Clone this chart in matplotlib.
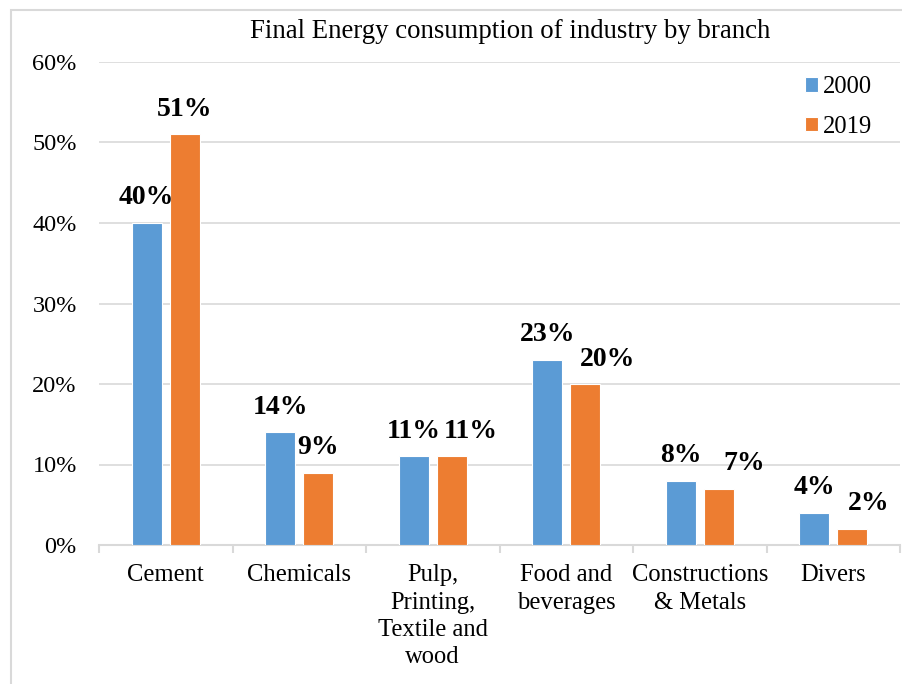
"""Final energy consumption of industry by branch: 2000 vs 2019 grouped bars."""
import matplotlib
matplotlib.use("Agg")
import matplotlib.pyplot as plt
from matplotlib.patches import Rectangle
from matplotlib.ticker import FixedLocator, PercentFormatter
import numpy as np

plt.rcParams["font.family"] = ["Liberation Serif", "DejaVu Serif"]

CATEGORIES = ["Cement", "Chemicals", "Pulp,\nPrinting,\nTextile and\nwood",
              "Food and\nbeverages", "Constructions\n& Metals", "Divers"]
SERIES = ["2000", "2019"]
VALS_2000 = [40, 14, 11, 23, 8, 4]
VALS_2019 = [51, 9, 11, 20, 7, 2]

BLUE = "#5B9BD5"
ORANGE = "#ED7D31"
GRID = "#D9D9D9"

# label nudges (points) for the 2019 labels, as placed in the original
NUDGE_2019 = [0, 0, 14, 16, 18, 12]

fig = plt.figure(figsize=(9.03, 6.84), dpi=100)
ax = fig.add_axes([99 / 903, 1 - 545 / 684, 801 / 903, 483 / 684])

x = np.arange(len(CATEGORIES))
w = 0.225
off = 0.142
b1 = ax.bar(x - off, VALS_2000, w, color=BLUE, edgecolor="white", linewidth=0.8,
            label=SERIES[0], zorder=3)
b2 = ax.bar(x + off, VALS_2019, w, color=ORANGE, edgecolor="white", linewidth=0.8,
            label=SERIES[1], zorder=3)

for i, r in enumerate(b1):
    ax.annotate(f"{VALS_2000[i]}%", (r.get_x() + r.get_width() / 2, r.get_height()),
                xytext=(0, 18), textcoords="offset points", ha="center", va="center",
                fontsize=20, fontweight="bold")
for i, r in enumerate(b2):
    ax.annotate(f"{VALS_2019[i]}%", (r.get_x() + r.get_width() / 2, r.get_height()),
                xytext=(NUDGE_2019[i], 18), textcoords="offset points", ha="center",
                va="center", fontsize=20, fontweight="bold")

ax.set_xlim(-0.5, len(CATEGORIES) - 0.5)
ax.set_ylim(0, 60)
ax.yaxis.set_major_locator(FixedLocator(range(0, 61, 10)))
ax.yaxis.set_major_formatter(PercentFormatter(decimals=0))
ax.grid(axis="y", color=GRID, linewidth=1.2, zorder=0)
ax.tick_params(axis="y", length=0, labelsize=17.5, pad=16)

ax.set_xticks(x)
ax.set_xticklabels(CATEGORIES, fontsize=17.7, linespacing=1.3)
ax.set_xticks(np.arange(-0.5, len(CATEGORIES)), minor=True)
ax.tick_params(axis="x", which="major", length=0, pad=14)
ax.tick_params(axis="x", which="minor", length=6, color=GRID, width=1.5)

for s in ["top", "right", "left"]:
    ax.spines[s].set_visible(False)
ax.spines["bottom"].set_color(GRID)
ax.spines["bottom"].set_linewidth(1.5)

fig.text(510 / 903, 1 - 32 / 684, "Final Energy consumption of industry by branch",
         ha="center", va="center", fontsize=19.3)

fig.legend(loc="upper left", bbox_to_anchor=(793 / 903, 1 - 64 / 684),
           frameon=False, fontsize=17.7, handlelength=0.52, handleheight=0.52,
           handletextpad=0.2, labelspacing=0.72, borderpad=0)

fig.patches.append(Rectangle((11 / 903, -0.1), 1.2, 1 - 10 / 684 + 0.1,
                             transform=fig.transFigure, fill=False,
                             edgecolor=GRID, linewidth=1.5))

fig.savefig("out.png", dpi=100)
